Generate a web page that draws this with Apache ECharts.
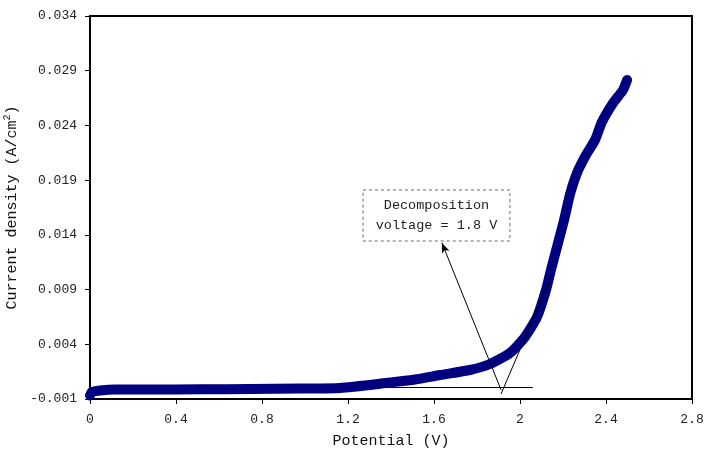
<!DOCTYPE html>
<html>
<head>
<meta charset="utf-8">
<script src="https://cdn.jsdelivr.net/npm/echarts@6/dist/echarts.min.js"></script>
<style>html,body{margin:0;padding:0;background:#fff;}#c{width:712px;height:461px;}</style>
</head>
<body>
<div id="c"></div>
<script>
// Potential (V)
var potential = [0.000, 0.009, 0.047, 0.116, 0.279, 0.512, 0.744, 0.977, 1.163, 1.395, 1.512, 1.628, 1.767, 1.860, 1.953, 2.023, 2.079, 2.121, 2.144, 2.172, 2.205, 2.233, 2.265, 2.307, 2.349, 2.381, 2.433, 2.479, 2.498];
// Current density (A/cm2)
var current = [-0.00068, -0.00036, -0.00022, -0.00013, -0.00013, -0.00011, -0.00009, -0.00004, 0.00001, 0.00051, 0.00078, 0.00119, 0.00165, 0.0022, 0.0032, 0.00467, 0.00649, 0.00896, 0.01079, 0.01289, 0.01536, 0.01773, 0.01965, 0.0213, 0.02267, 0.02431, 0.02605, 0.02724, 0.02815];
var xTicks = [0, 0.4, 0.8, 1.2, 1.6, 2.0, 2.4, 2.8];
var yTicks = [-0.001, 0.004, 0.009, 0.014, 0.019, 0.024, 0.029, 0.034];
// annotation (data coordinates)
var baseLine = [[0.93, 0.00005], [2.06, 0.00005]];
var tangentLine = [[1.912, -0.00054], [2.144, 0.01015]];
var arrowLine = [[1.912, -0.00018], [1.637, 0.01326]];
var noteBox = [[1.270, 0.01810], [1.953, 0.01344]];
var noteText = 'Decomposition\nvoltage = 1.8 V';

var FONT = '"Liberation Mono", "DejaVu Sans Mono", monospace';
var data = potential.map(function (v, i) { return [v, current[i]]; });
var chart = echarts.init(document.getElementById('c'), null, {renderer: 'canvas'});
chart.setOption({
  animation: false,
  backgroundColor: '#fff',
  grid: {left: 90, right: 20, top: 16, bottom: 62, containLabel: false, outerBoundsMode: 'none',
    show: true, borderColor: '#000', borderWidth: 2, backgroundColor: 'transparent'},
  xAxis: {
    type: 'value', min: 0, max: 2.8, interval: 0.4,
    name: 'Potential (V)', nameLocation: 'middle', nameGap: 35,
    nameTextStyle: {fontFamily: FONT, fontSize: 15, color: '#111'},
    axisLine: {show: true, onZero: false, lineStyle: {color: '#000', width: 2}},
    axisTick: {show: true, inside: false, length: 5, lineStyle: {color: '#000', width: 1}, customValues: xTicks},
    axisLabel: {margin: 14, fontFamily: FONT, fontSize: 13, color: '#222', customValues: xTicks,
      formatter: function (v) { return String(+v.toFixed(1)); }},
    splitLine: {show: false}
  },
  yAxis: {
    type: 'value', min: -0.001, max: 0.034,
    name: 'Current density (A/cm{sup|2})', nameLocation: 'middle', nameGap: 60, nameRotate: 90,
    nameTextStyle: {fontFamily: FONT, fontSize: 15, color: '#111',
      rich: {sup: {fontFamily: FONT, fontSize: 10, color: '#111', padding: [0, 0, 8, 0]}}},
    axisLine: {show: true, onZero: false, lineStyle: {color: '#000', width: 2}},
    axisTick: {show: true, inside: false, length: 5, lineStyle: {color: '#000', width: 1}, customValues: yTicks},
    axisLabel: {margin: 13, fontFamily: FONT, fontSize: 13, color: '#222', customValues: yTicks,
      formatter: function (v) { return v.toFixed(3); }},
    splitLine: {show: false}
  },
  series: [{
    type: 'line',
    data: data,
    showSymbol: false,
    symbol: 'none',
    smooth: 0.2,
    lineStyle: {color: '#000080', width: 10, cap: 'round', join: 'round'},
    itemStyle: {color: '#000080'},
    z: 2,
    markLine: {
      silent: true,
      symbol: ['none', 'none'],
      label: {show: false},
      lineStyle: {color: '#000', width: 1, type: 'solid'},
      emphasis: {disabled: true},
      data: [
        [{coord: baseLine[0]}, {coord: baseLine[1]}],
        [{coord: tangentLine[0]}, {coord: tangentLine[1]}],
        [{coord: arrowLine[0], symbol: 'none'}, {coord: arrowLine[1], symbol: 'arrow', symbolSize: [6, 10]}]
      ]
    },
    markArea: {
      silent: true,
      itemStyle: {color: '#fff', borderColor: '#666', borderWidth: 1, borderType: [3, 3]},
      label: {show: true, position: 'inside', formatter: noteText, fontFamily: FONT, fontSize: 13.5, lineHeight: 20, color: '#222'},
      emphasis: {disabled: true},
      data: [[{coord: noteBox[0]}, {coord: noteBox[1]}]]
    }
  }]
});
</script>
</body>
</html>
